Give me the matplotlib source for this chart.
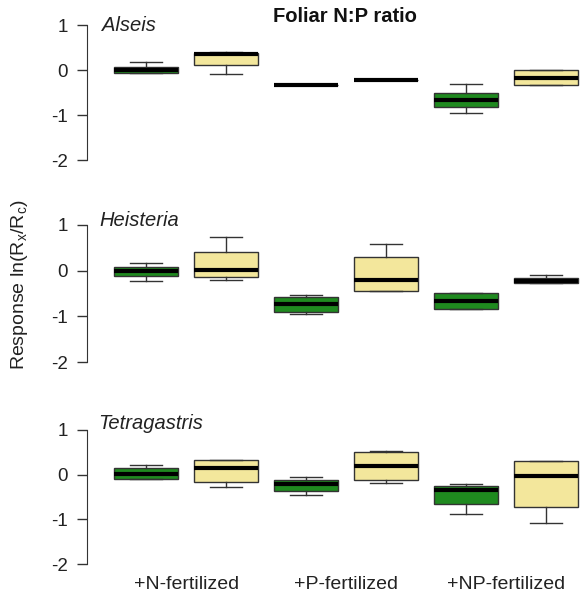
import matplotlib
matplotlib.use("Agg")
import matplotlib.pyplot as plt

plt.rcParams['font.family'] = ['Liberation Sans', 'DejaVu Sans']

species = ["Alseis", "Heisteria", "Tetragastris"]
groups = ["+N-fertilized", "+P-fertilized", "+NP-fertilized"]
# per species: 6 boxes (green, yellow for N, P, NP): (whislo, q1, med, q3, whishi)
alseis = [(-0.07, -0.07, 0.0, 0.07, 0.17),
          (-0.09, 0.11, 0.35, 0.37, 0.40),
          (-0.33, -0.33, -0.33, -0.33, -0.33),
          (-0.22, -0.22, -0.22, -0.22, -0.22),
          (-0.94, -0.81, -0.65, -0.50, -0.31),
          (-0.33, -0.33, -0.17, 0.0, 0.0)]
heisteria = [(-0.22, -0.11, 0.0, 0.09, 0.16),
             (-0.20, -0.13, 0.02, 0.40, 0.74),
             (-0.95, -0.91, -0.73, -0.58, -0.53),
             (-0.44, -0.44, -0.20, 0.31, 0.58),
             (-0.83, -0.83, -0.66, -0.49, -0.49),
             (-0.28, -0.28, -0.22, -0.16, -0.09)]
tetragastris = [(-0.10, -0.10, 0.02, 0.15, 0.22),
                (-0.28, -0.16, 0.16, 0.33, 0.33),
                (-0.45, -0.36, -0.22, -0.11, -0.06),
                (-0.19, -0.13, 0.20, 0.50, 0.53),
                (-0.88, -0.66, -0.34, -0.26, -0.22),
                (-1.08, -0.73, -0.04, 0.31, 0.31)]
data = [alseis, heisteria, tetragastris]
yticks = [-2, -1, 0, 1]
colors = ["#1f8a1f", "#f3e79c"] * 3

W, H = 581, 595
fig = plt.figure(figsize=(W / 100, H / 100), dpi=100)

panels_px = [(19.6, 165.9), (219.5, 367.5), (424.6, 569.4)]
label_pos = [(0.45, 0.98), (0.42, 1.1), (0.40, 1.15)]
left_px, right_px = 87, 605

for i, (top, bot) in enumerate(panels_px):
    ax = fig.add_axes([left_px / W, 1 - bot / H, (right_px - left_px) / W, (bot - top) / H])
    stats = []
    for (wl, q1, med, q3, wh) in data[i]:
        stats.append(dict(whislo=wl, q1=q1, med=med, q3=q3, whishi=wh, fliers=[]))
    res = ax.bxp(stats, positions=range(1, 7), widths=0.8, capwidths=0.4,
                 patch_artist=True, showfliers=False,
                 boxprops=dict(edgecolor="#333333", linewidth=1.0),
                 medianprops=dict(color="black", linewidth=3.0, solid_capstyle="butt"),
                 whiskerprops=dict(color="#333333", linewidth=1.0),
                 capprops=dict(color="#333333", linewidth=1.0))
    for patch, c in zip(res["boxes"], colors):
        patch.set_facecolor(c)
    ax.set_xlim(0.26, 6.74)
    ax.set_ylim(-2.12, 1.12)
    for s in ["top", "right", "bottom"]:
        ax.spines[s].set_visible(False)
    ax.spines["left"].set_bounds(-2, 1)
    ax.spines["left"].set_color("#333333")
    ax.set_yticks(yticks)
    ax.set_yticklabels([str(t) for t in yticks], fontsize=13.5, color="#222222")
    ax.tick_params(axis="y", length=7, width=1, color="#333333", pad=7)
    if i == 2:
        ax.set_xticks([1.5, 3.5, 5.5])
        ax.set_xticklabels(groups, fontsize=14, color="#222222")
        ax.tick_params(axis="x", length=0, pad=5)
    else:
        ax.set_xticks([])
    ax.text(label_pos[i][0], label_pos[i][1], species[i], style="italic",
            fontsize=14.5, ha="left", va="center", color="#222222")

fig.text(345 / W, 1 - 16 / H, "Foliar N:P ratio", fontsize=14.5, fontweight="bold",
         ha="center", va="center", color="#111111")
fig.text(20 / W, 1 - 285 / H, r"Response ln(R$_\mathregular{x}$/R$_\mathregular{c}$)",
         fontsize=14, rotation=90, ha="center", va="center", color="#222222")

fig.savefig("out.png", dpi=100)
